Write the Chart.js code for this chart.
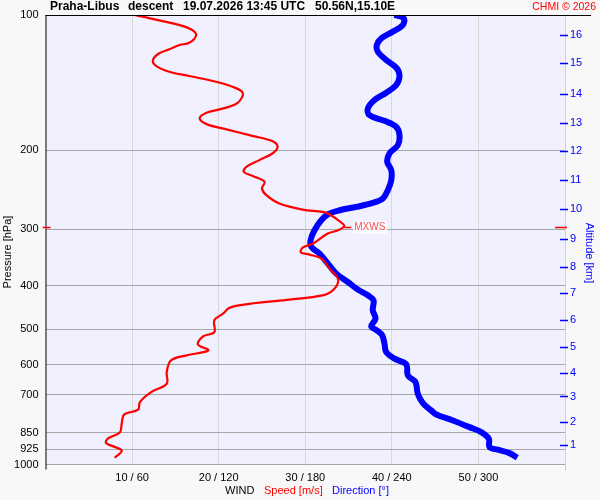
<!DOCTYPE html>
<html>
<head>
<meta charset="utf-8">
<script src="https://cdn.jsdelivr.net/npm/chart.js@4"></script>
<style>
  body { margin: 0; background: #f8f8f8; }
</style>
</head>
<body>
<canvas id="windChart" width="600" height="500"></canvas>
<script>
// pressure axis ticks (hPa)
const pressTicks = [100, 200, 300, 400, 500, 600, 700, 850, 925, 1000];
// altitude ticks (km) and the pressure where each one sits
const altKm = [1, 2, 3, 4, 5, 6, 7, 8, 9, 10, 11, 12, 13, 14, 15, 16];
const altPress = [903.9, 803.4, 705.8, 624.9, 546.9, 477.9, 415.5, 363.6, 315.4, 270.4, 233.1, 200.6, 174.0, 149.7, 128.1, 110.6];
// speed ticks (m/s), direction = speed * 6
const speedTicks = [10, 20, 30, 40, 50];

// wind speed profile
const speedPress = [100, 105.3, 107.6, 110.8, 115.3, 116.6, 119.2, 122.1, 126.4, 129.9, 133.7, 136.7, 140.8, 144.4,
  148.2, 152.5, 157.8, 162.2, 165.0, 169.8, 174.9, 179.7, 186.0, 190.5, 195.8, 202.6, 210.3, 217.7, 223.4, 228.3,
  235.1, 243.2, 251.7, 262.7, 270.9, 274.2, 277.5, 291.0, 295.1, 301.2, 306.4, 322.5, 329.2, 337.7, 341.2, 348.3,
  366.6, 387.8, 409.7, 420.4, 429.7, 437.3, 447.7, 461.7, 477.8, 507.4, 518.7, 540.4, 557.3, 571.8, 586.6, 622.9,
  661.2, 690.3, 726.4, 755.3, 773.7, 811.4, 847.2, 876.3, 896.3, 930.6, 966.2];
const speedVal = [10.3, 15.5, 16.8, 17.4, 16.6, 15.5, 14.3, 13.0, 12.4, 12.8, 14.3, 16.6, 19.7, 21.6,
  22.7, 22.7, 22.0, 20.1, 18.6, 17.8, 18.6, 20.9, 24.0, 26.1, 26.8, 26.3, 24.7, 23.2, 22.9, 24.0,
  25.3, 25.0, 25.5, 27.0, 29.7, 32.0, 32.8, 34.3, 34.5, 33.8, 32.6, 30.9, 29.7, 29.5, 30.5, 31.9,
  32.8, 33.8, 33.2, 32.0, 28.2, 24.3, 21.3, 20.5, 19.5, 19.5, 18.2, 17.6, 18.8, 16.3, 14.5, 14.0,
  14.0, 12.2, 10.9, 10.7, 9.1, 8.8, 8.6, 7.2, 7.0, 8.8, 8.0];

// wind direction profile
const dirPress = [100, 101.7, 105.3, 108.9, 112.7, 116.6, 120.7, 125.9, 131.4, 137.2, 143.2, 148.9, 154.6, 161.4,
  167.0, 172.0, 177.3, 185.0, 194.8, 203.2, 212.2, 221.4, 233.1, 245.3, 256.0, 261.8, 267.3, 271.9, 277.5, 286.2,
  301.2, 317.1, 328.1, 339.4, 357.3, 376.1, 392.6, 408.2, 420.4, 431.3, 454.0, 473.7, 492.8, 502.9, 516.0, 538.4,
  562.2, 581.5, 598.8, 633.5, 655.7, 696.0, 730.1, 758.0, 773.7, 798.0, 825.7, 847.2, 876.3, 915.0, 927.2, 943.5, 966.2];
const dirVal = [241.9, 248.3, 247.6, 240.7, 232.7, 229.6, 230.3, 236.1, 243.5, 245.3, 243.0, 236.1, 228.0, 223.4,
  224.5, 234.9, 243.0, 245.3, 244.2, 238.4, 236.8, 239.6, 239.6, 237.2, 233.8, 226.8, 215.3, 203.8, 195.7, 191.1,
  186.4, 183.7, 184.2, 189.9, 195.7, 201.5, 209.5, 216.4, 223.4, 227.3, 226.8, 228.7, 225.7, 229.6, 233.3, 234.9,
  236.1, 241.9, 250.0, 251.1, 256.4, 258.0, 261.5, 267.3, 270.8, 282.3, 293.8, 301.9, 307.2, 307.7, 313.4, 321.5, 326.9];

const FONT = 'Liberation Sans, Arial, sans-serif';

const speedData = speedPress.map((p, i) => ({ x: speedVal[i], y: p }));
const dirData = dirPress.map((p, i) => ({ x: dirVal[i], y: p }));

// frame, titles and the MXWS marker
const decor = {
  id: 'decor',
  beforeDraw(chart) {
    const { ctx, chartArea: a } = chart;
    ctx.save();
    ctx.fillStyle = '#f8f8f8';
    ctx.fillRect(0, 0, chart.width, chart.height);
    ctx.fillStyle = '#f0f0ff';
    ctx.fillRect(a.left, a.top, a.right - a.left, a.bottom - a.top);
    ctx.restore();
  },
  afterDraw(chart) {
    const { ctx, chartArea: a, scales } = chart;
    ctx.save();
    // frame
    ctx.lineWidth = 1;
    ctx.strokeStyle = '#d0d0d0';
    ctx.beginPath();
    ctx.moveTo(a.right + 0.5, a.top);
    ctx.lineTo(a.right + 0.5, a.bottom + 6);
    ctx.stroke();
    ctx.strokeStyle = '#000';
    ctx.beginPath();
    ctx.moveTo(a.left, a.top + 0.5);
    ctx.lineTo(591, a.top + 0.5);
    ctx.moveTo(a.left + 0.5, a.top);
    ctx.lineTo(a.left + 0.5, a.bottom + 5);
    ctx.stroke();

    // altitude tick marks
    const yAlt = scales.yAlt;
    ctx.strokeStyle = '#0000ff';
    ctx.lineWidth = 1.5;
    altPress.forEach(p => {
      const y = Math.round(yAlt.getPixelForValue(p)) + 0.5;
      ctx.beginPath();
      ctx.moveTo(a.right - 5, y);
      ctx.lineTo(a.right + 3, y);
      ctx.stroke();
    });

    // max wind marker
    let iMax = 0;
    speedVal.forEach((v, i) => { if (v > speedVal[iMax]) iMax = i; });
    const my = Math.round(scales.y.getPixelForValue(speedPress[iMax])) + 1.5;
    const mx = scales.x.getPixelForValue(speedVal[iMax]);
    ctx.strokeStyle = '#ff0000';
    ctx.lineWidth = 1.5;
    ctx.beginPath();
    ctx.moveTo(mx, my);
    ctx.lineTo(mx + 7, my);
    ctx.moveTo(a.right - 10, my);
    ctx.lineTo(a.right + 2, my);
    ctx.moveTo(a.left - 3, my);
    ctx.lineTo(a.left + 5, my);
    ctx.stroke();
    ctx.font = '10px ' + FONT;
    ctx.textBaseline = 'middle';
    const w = ctx.measureText('MXWS').width;
    ctx.fillStyle = 'rgba(255,255,255,0.8)';
    ctx.fillRect(mx + 9, my - 6, w + 3, 12);
    ctx.fillStyle = '#ff5050';
    ctx.fillText('MXWS', mx + 10, my);

    // header
    ctx.fillStyle = '#000';
    ctx.font = 'bold 12px ' + FONT;
    ctx.fillText('Praha-Libus', 50, 7);
    ctx.fillText('descent', 128, 7);
    ctx.fillText('19.07.2026 13:45 UTC', 183, 7);
    ctx.fillText('50.56N,15.10E', 315, 7);
    ctx.font = '10.5px ' + FONT;
    ctx.fillStyle = '#ff0000';
    ctx.textAlign = 'right';
    ctx.fillText('CHMI \u00a9 2026', 596, 7);

    // axis legend under the x axis
    ctx.textAlign = 'left';
    ctx.font = '11px ' + FONT;
    ctx.fillStyle = '#000';
    ctx.fillText('WIND', 225, 491);
    ctx.fillStyle = '#ff0000';
    ctx.fillText('Speed [m/s]', 264, 491);
    ctx.fillStyle = '#0000ff';
    ctx.fillText('Direction [\u00b0]', 332, 491);

    // vertical axis titles
    ctx.textAlign = 'center';
    ctx.save();
    ctx.translate(8, 252);
    ctx.rotate(-Math.PI / 2);
    ctx.fillStyle = '#000';
    ctx.fillText('Pressure [hPa]', 0, 0);
    ctx.restore();
    ctx.save();
    ctx.translate(589, 253);
    ctx.rotate(Math.PI / 2);
    ctx.fillStyle = '#0000ff';
    ctx.fillText('Altitude [km]', 0, 0);
    ctx.restore();
    ctx.restore();
  }
};

new Chart(document.getElementById('windChart'), {
  type: 'scatter',
  data: {
    datasets: [{
      label: 'Speed [m/s]',
      data: speedData,
      showLine: true,
      borderColor: '#ff0000',
      borderWidth: 2.2,
      tension: 0.35,
      pointRadius: 0,
      xAxisID: 'x',
      yAxisID: 'y'
    }, {
      label: 'Direction [\u00b0]',
      data: dirData,
      showLine: true,
      borderColor: '#0000ff',
      borderWidth: 6,
      tension: 0.35,
      pointRadius: 0,
      xAxisID: 'xDir',
      yAxisID: 'y'
    }]
  },
  options: {
    responsive: false,
    animation: false,
    layout: { padding: { top: 15, left: 0, right: 0, bottom: 0 } },
    plugins: {
      legend: { display: false },
      tooltip: { enabled: false }
    },
    scales: {
      x: {
        type: 'linear',
        min: 0,
        max: 60,
        afterBuildTicks: s => { s.ticks = [0].concat(speedTicks, [60]).map(v => ({ value: v })); },
        afterFit: s => { s.height = 35.5; },
        ticks: {
          padding: 7,
          color: '#000',
          font: { family: FONT, size: 11 },
          callback: v => (speedTicks.includes(v) ? v + ' / ' + v * 6 : '')
        },
        grid: {
          drawTicks: false,
          color: c => (c.tick && speedTicks.includes(c.tick.value) ? '#d8d8d8' : 'rgba(0,0,0,0)')
        },
        border: { display: false }
      },
      xDir: {
        type: 'linear',
        min: 0,
        max: 360,
        display: false
      },
      y: {
        type: 'logarithmic',
        position: 'left',
        reverse: true,
        min: 100,
        max: 1000,
        afterBuildTicks: s => { s.ticks = pressTicks.map(v => ({ value: v })); },
        afterFit: s => { s.width = 45.5; },
        ticks: {
          padding: 7,
          color: '#000',
          font: { family: FONT, size: 11 },
          callback: v => String(v)
        },
        grid: {
          drawTicks: false,
          color: c => (c.tick && c.tick.value === 100 ? 'rgba(0,0,0,0)' : '#a6a6a6')
        },
        border: { display: false }
      },
      yAlt: {
        type: 'logarithmic',
        position: 'right',
        reverse: true,
        min: 100,
        max: 1000,
        afterBuildTicks: s => { s.ticks = altPress.map(v => ({ value: v })); },
        afterFit: s => { s.width = 35; },
        ticks: {
          padding: 5,
          color: '#0000ff',
          font: { family: FONT, size: 11 },
          callback: v => String(altKm[altPress.indexOf(v)])
        },
        grid: { drawOnChartArea: false, drawTicks: false },
        border: { display: false }
      }
    }
  },
  plugins: [decor]
});
</script>
</body>
</html>
